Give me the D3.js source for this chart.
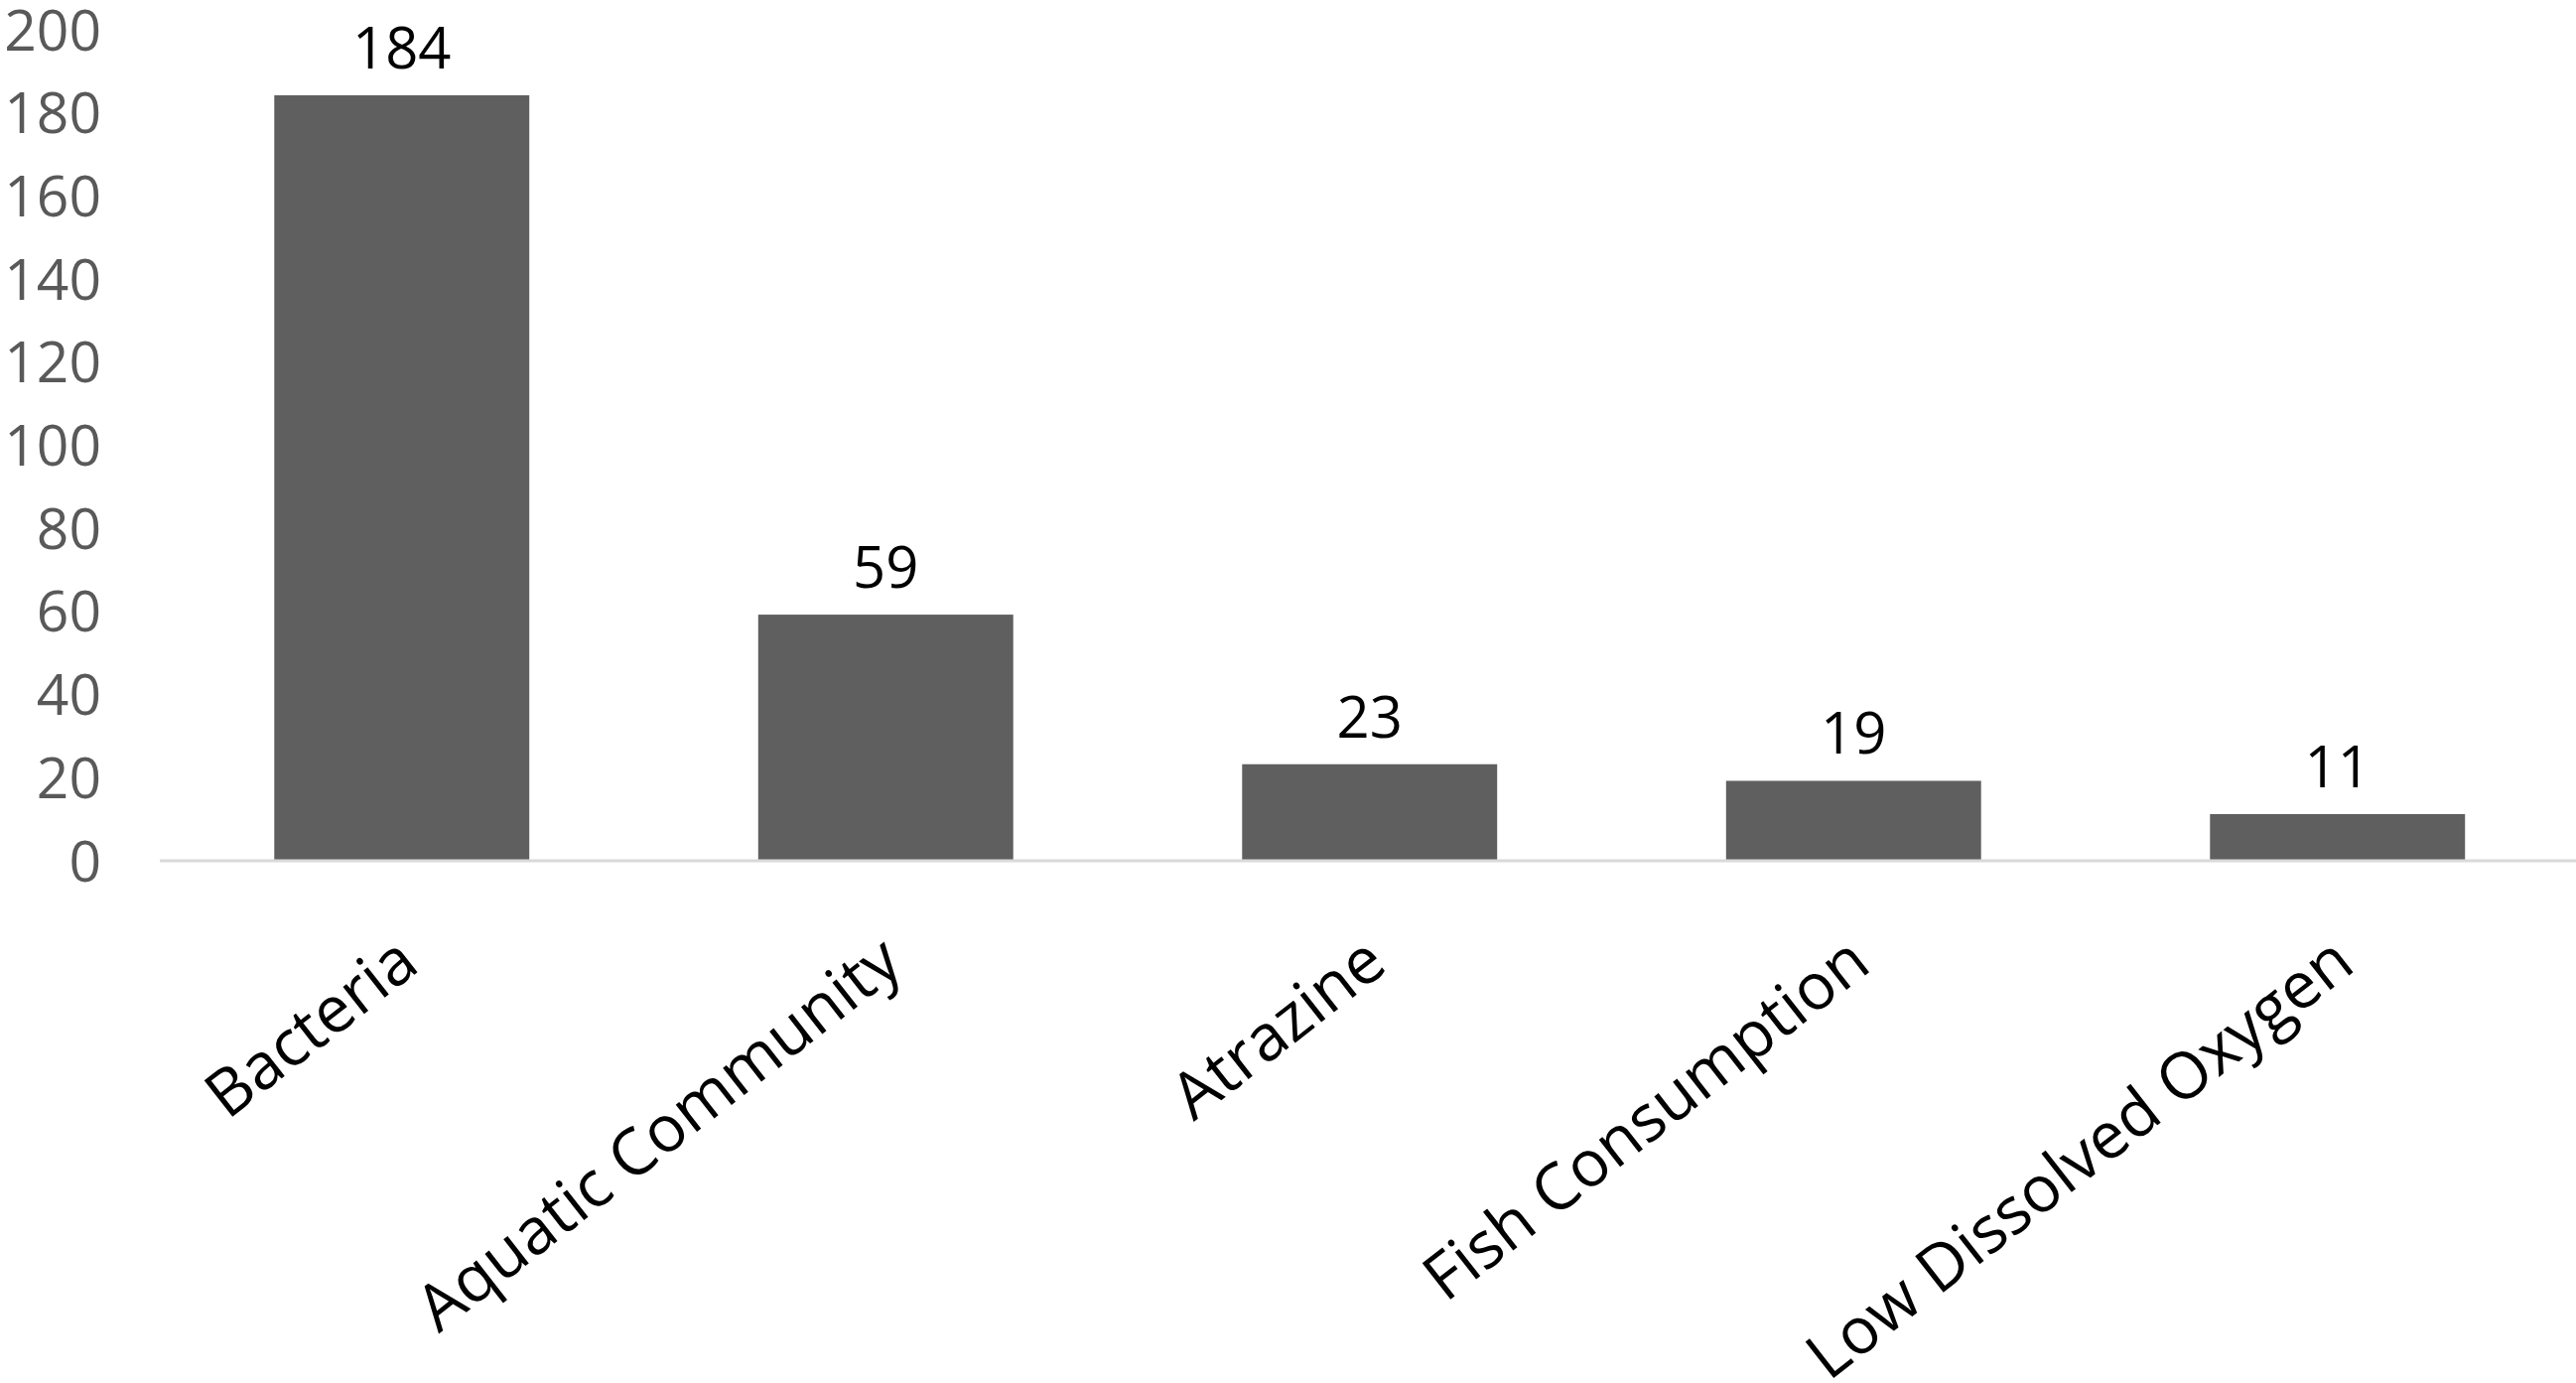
<!DOCTYPE html>
<html>
<head>
<meta charset="utf-8">
<script src="https://cdn.jsdelivr.net/npm/d3@7"></script>
<style>
  html, body { margin: 0; padding: 0; background: #fff; }
  svg { display: block; font-family: "Open Sans", "Noto Sans", sans-serif; }
</style>
</head>
<body>
<div id="chart"></div>
<script>
// data
const categories = ["Bacteria", "Aquatic Community", "Atrazine", "Fish Consumption", "Low Dissolved Oxygen"];
const counts = [184, 59, 23, 19, 11];
const yTicks = [0, 20, 40, 60, 80, 100, 120, 140, 160, 180, 200];

const width = 2595, height = 1393;
const margin = { top: 29, left: 161, bottom: 1393 - 866 };

const svg = d3.select("#chart").append("svg")
  .attr("width", width)
  .attr("height", height);

svg.append("rect").attr("width", width).attr("height", height).attr("fill", "#fff");

const x = d3.scaleBand()
  .domain(categories)
  .range([margin.left, margin.left + 5 * 487.5])
  .paddingInner(0.473)
  .paddingOuter(0.2365);

const y = d3.scaleLinear()
  .domain([0, 200])
  .range([height - margin.bottom, margin.top]);

const data = categories.map((c, i) => ({ cat: c, val: counts[i] }));

// y tick labels (no axis line, no gridlines)
const yAxis = svg.append("g")
  .attr("transform", `translate(102,0)`)
  .call(d3.axisLeft(y).tickValues(yTicks).tickSize(0).tickPadding(0));
yAxis.select(".domain").remove();
yAxis.selectAll("text")
  .attr("fill", "#595959")
  .attr("font-size", 57)
  .attr("dy", "0.37em")
  .attr("font-family", "Open Sans, sans-serif");

// bars
svg.selectAll("rect.bar")
  .data(data)
  .enter()
  .append("rect")
  .attr("class", "bar")
  .attr("x", d => x(d.cat))
  .attr("width", x.bandwidth())
  .attr("y", d => y(d.val))
  .attr("height", d => y(0) - y(d.val))
  .attr("fill", "#5f5f5f");

// baseline
svg.append("line")
  .attr("x1", margin.left)
  .attr("x2", width)
  .attr("y1", y(0) + 1)
  .attr("y2", y(0) + 1)
  .attr("stroke", "#d9d9d9")
  .attr("stroke-width", 3);

// value labels
svg.selectAll("text.val")
  .data(data)
  .enter()
  .append("text")
  .attr("class", "val")
  .attr("x", d => x(d.cat) + x.bandwidth() / 2)
  .attr("y", d => y(d.val) - 27)
  .attr("text-anchor", "middle")
  .attr("font-size", 58)
  .attr("fill", "#000")
  .text(d => d.val);

// rotated category labels
svg.selectAll("text.cat")
  .data(data)
  .enter()
  .append("text")
  .attr("class", "cat")
  .attr("text-anchor", "end")
  .attr("font-size", 65)
  .attr("fill", "#000")
  .attr("transform", d => `translate(${x(d.cat) + x.bandwidth() / 2 + 20},${y(0) + 110}) rotate(-38)`)
  .text(d => d.cat);
</script>
</body>
</html>
